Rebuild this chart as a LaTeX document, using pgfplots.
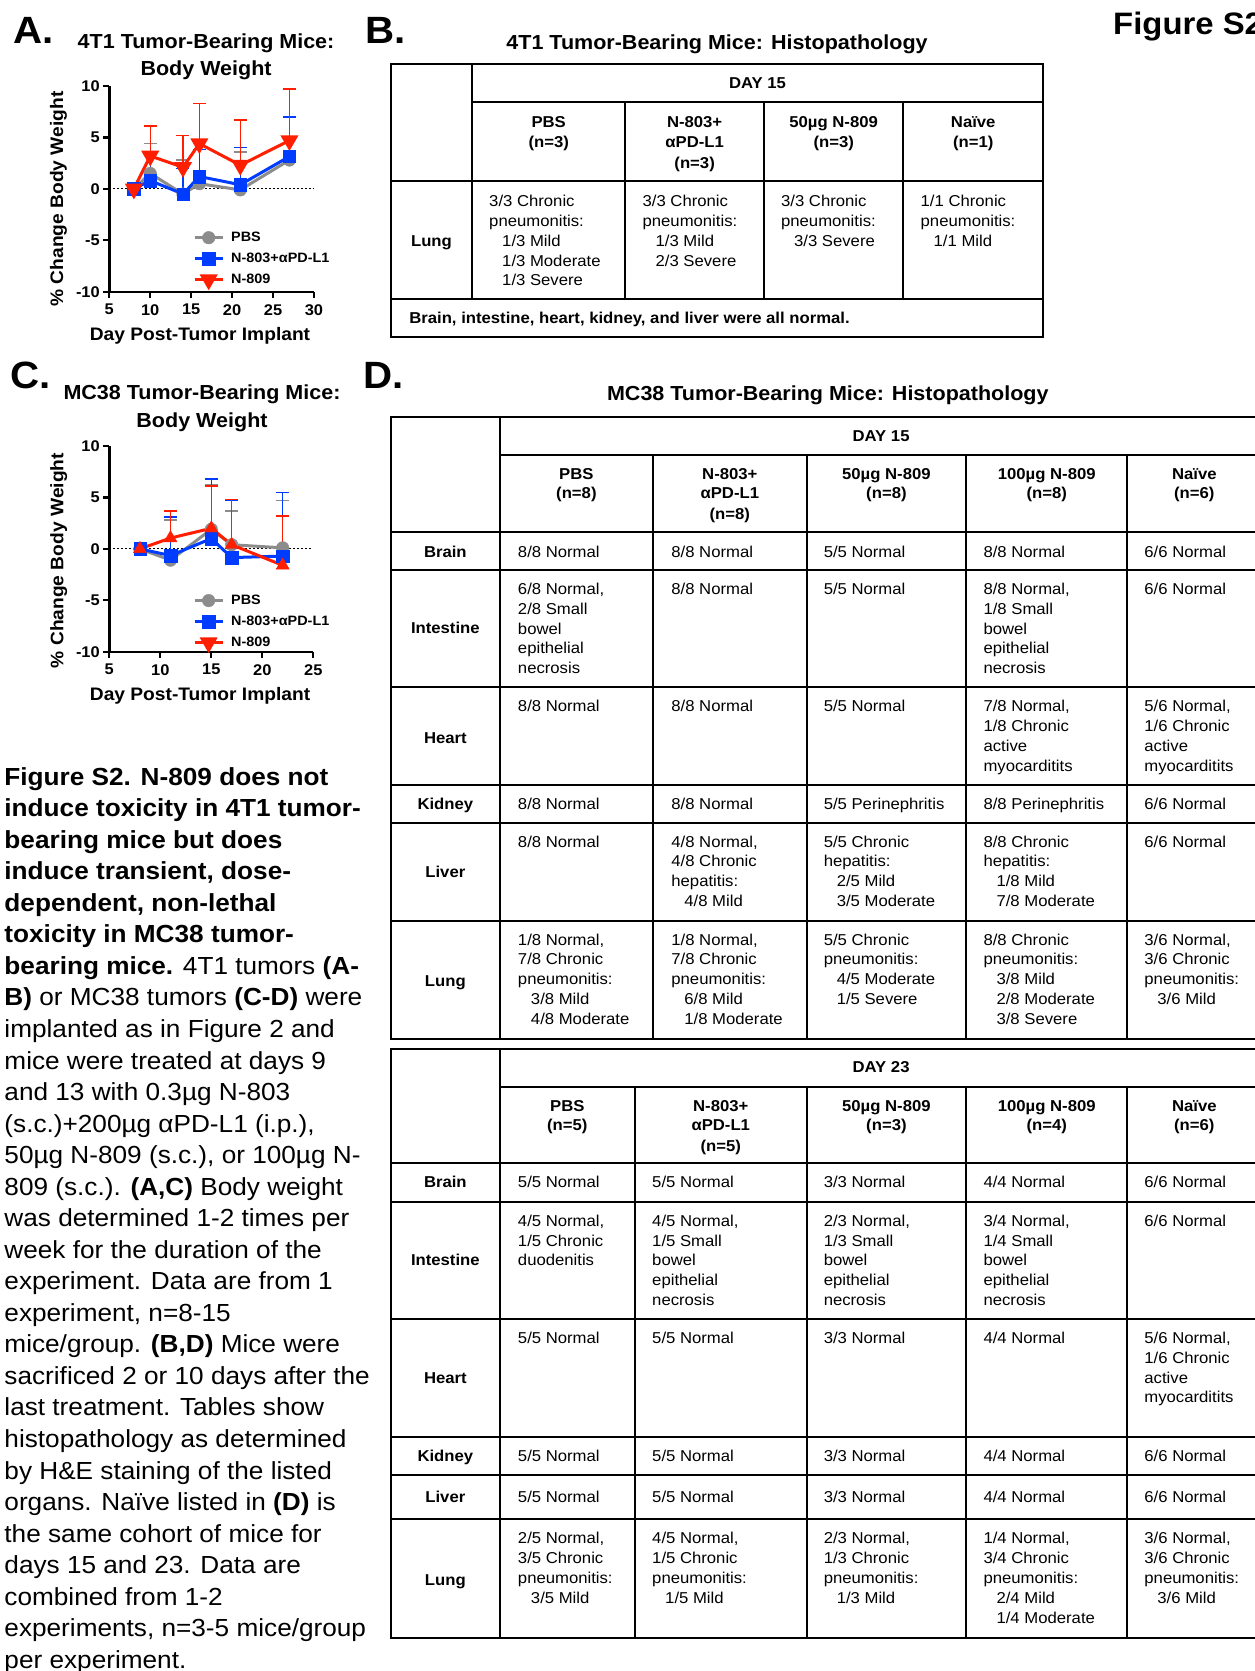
\documentclass[border=0pt]{standalone}
\usepackage{fontspec}
\setmainfont{Liberation Sans}[FakeStretch=1.06]
\usepackage{pgfplots}
\usepackage{pgfplotstable}
\pgfplotsset{compat=1.18}
\definecolor{pbsg}{RGB}{140,140,140}
\definecolor{nblue}{RGB}{0,60,255}
\definecolor{nred}{RGB}{255,30,0}
\newcommand\tf{\fontsize{15.75}{19}\selectfont}
\newcommand\capf{\fontsize{24.7}{29}\selectfont}
\newcommand\ttl{\bfseries\fontsize{20.3}{24}\selectfont}
\newcommand\plab{\bfseries\fontsize{38}{40}\selectfont}
\newcommand\cell[3]{\foreach \cellitem [count=\nn from 0] in {#3} {\node[anchor=base west,inner sep=0pt,font=\tf] at (#1,#2+18.6*\nn) {\cellitem};}}
\newcommand\hd[3]{\node[anchor=base,inner sep=0pt,font=\tf\bfseries] at (#1,#2) {#3};}
\newcommand\cl[2]{\node[anchor=base west,inner sep=0pt,font=\capf] at (4,737+29.6*#1-29.6) {#2};}
\newcommand\ind{\hspace*{13pt}}

\pgfplotstableread{
x y e
8 0 0
10 1.5 2.9
14 -0.5 3.3
16 0.5 4.0
21 -0.1 3.7
27 2.8 0.9
}\pbsA
\pgfplotstableread{
x y e
8 0 0
10 0.8 2.55
14 -0.5 2.5
16 1.2 2.6
21 0.4 3.6
27 3.15 3.85
}\blueA
\pgfplotstableread{
x y e
8 0 0
10 3.2 2.9
14 2.1 3.1
16 4.4 3.9
21 2.3 4.4
27 4.7 5.0
}\redA
\pgfplotstableread{
x y e
8 0 0
11 -1.1 3.9
15 1.9 4.3
17 0.4 3.3
22 0.1 4.6
}\pbsC
\pgfplotstableread{
x y e
8 0 0
11 -0.65 3.75
15 1.0 5.8
17 -0.85 5.55
22 -0.7 6.2
}\blueC
\pgfplotstableread{
x y e
8 0 0
11 1.05 2.65
15 2.0 4.1
17 0.4 4.4
22 -1.6 4.8
}\redC

\pgfplotsset{
 gpstyle/.style={
  scale only axis,
  axis x line=bottom, axis y line=left,
  axis line style={-, line width=2.4pt},
  ymin=-10, ymax=10, xmin=5,
  ytick={-10,-5,0,5,10},
  tick align=outside, major tick length=6pt,
  tick style={line width=2.2pt, black},
  ticklabel style={font=\bfseries\fontsize{15.5}{16}\selectfont},
  xticklabel style={yshift=-3pt},
  /pgf/number format/assume math mode=true,
  label style={font=\bfseries\fontsize{18.1}{20}\selectfont},
  clip=false,
  legend cell align=left,
  legend style={draw=none, fill=none, inner sep=0pt, row sep=6pt,
    nodes={text height=10pt, text depth=3pt, inner sep=1pt},
    /tikz/every odd column/.append style={column sep=6pt},
    font=\bfseries\fontsize{13.6}{15}\selectfont},
  legend image code/.code={\draw[mark repeat=2,mark phase=2,##1] plot coordinates {(0pt,0pt) (14pt,0pt) (28pt,0pt)};},
 },
 ser/.style={line width=3pt, mark options={solid, line width=0.4pt}},
 eb/.style={/pgfplots/error bars/y dir=plus, /pgfplots/error bars/y explicit,
   /pgfplots/error bars/error bar style={line width=1.4pt,#1},
   /pgfplots/error bars/error mark options={rotate=90, mark size=6.5pt, line width=1.4pt, #1}},
}

\begin{document}
\begin{tikzpicture}
\useasboundingbox (0pt,0pt) rectangle (1255pt,-1671pt);

% ---------------- Panel A ----------------
\begin{axis}[gpstyle,
  at={(109.3pt,-291.7pt)}, anchor=south west,
  width=204.7pt, height=205.7pt,
  xmax=30, xtick={5,10,...,30},
  xlabel={Day Post-Tumor Implant}, ylabel={\% Change Body Weight},
  xlabel style={at={(axis description cs:0.443,-0.235)}, anchor=base},
  ylabel style={at={(axis description cs:-0.225,0.451)}, anchor=base},
  legend style={at={(0.409,0.300)}, anchor=north west},
]
\addplot[black, line width=1.2pt, dash pattern=on 1.2pt off 2.8pt, forget plot] coordinates {(5,0) (30,0)};
\addplot[pbsg, ser, mark=*, mark size=6.3pt, eb=pbsg] table[x=x,y=y,y error=e] {\pbsA};
\addplot[nblue, ser, mark=square*, mark size=6.2pt, eb=nblue] table[x=x,y=y,y error=e] {\blueA};
\addplot[nred, ser, mark=triangle*, mark size=7.5pt, mark options={rotate=180}, eb=nred] table[x=x,y=y,y error=e] {\redA};
\legend{PBS, N-803+αPD-L1, N-809}
\end{axis}

% ---------------- Panel C ----------------
\begin{axis}[gpstyle,
  at={(109.3pt,-651.7pt)}, anchor=south west,
  width=204pt, height=205.7pt,
  xmax=25, xtick={5,10,...,25},
  xlabel={Day Post-Tumor Implant}, ylabel={\% Change Body Weight},
  xlabel style={at={(axis description cs:0.445,-0.235)}, anchor=base},
  ylabel style={at={(axis description cs:-0.2255,0.443)}, anchor=base},
  legend style={at={(0.41,0.286)}, anchor=north west},
]
\addplot[black, line width=1.2pt, dash pattern=on 1.2pt off 2.8pt, forget plot] coordinates {(5,0) (25,0)};
\addplot[pbsg, ser, mark=*, mark size=6.3pt, eb=pbsg] table[x=x,y=y,y error=e] {\pbsC};
\addplot[nblue, ser, mark=square*, mark size=6.2pt, eb=nblue] table[x=x,y=y,y error=e] {\blueC};
\addplot[nred, ser, mark=triangle*, mark size=7.5pt, eb=nred, forget plot] table[x=x,y=y,y error=e] {\redC};
\addlegendimage{nred, ser, mark=triangle*, mark size=7.5pt, mark options={rotate=180}}
\legend{PBS, N-803+αPD-L1, N-809}
\end{axis}

\begin{scope}[x=1.0654pt, y=-1.0654pt, tl/.style={line width=2pt, line cap=rect}]
% labels and titles
\node[anchor=base west, inner sep=0pt, font=\plab] at (12.2,40.7) {A.};
\node[anchor=base, inner sep=0pt, font=\ttl] at (193.4,45.4) {4T1 Tumor-Bearing Mice:};
\node[anchor=base, inner sep=0pt, font=\ttl] at (193.4,70.4) {Body Weight};
\node[anchor=base west, inner sep=0pt, font=\plab] at (342.6,40.7) {B.};
\node[anchor=base, inner sep=0pt, font=\ttl] at (673,46) {4T1 Tumor-Bearing Mice: Histopathology};
\node[anchor=base west, inner sep=0pt, font=\plab] at (9.4,364.5) {C.};
\node[anchor=base, inner sep=0pt, font=\ttl] at (189.6,374.8) {MC38 Tumor-Bearing Mice:};
\node[anchor=base, inner sep=0pt, font=\ttl] at (189.6,401) {Body Weight};
\node[anchor=base west, inner sep=0pt, font=\plab] at (340.7,364.2) {D.};
\node[anchor=base, inner sep=0pt, font=\ttl] at (777,376) {MC38 Tumor-Bearing Mice: Histopathology};
\node[anchor=base west, inner sep=0pt, font=\bfseries\fontsize{31}{33}\selectfont] at (1044.7,32.5) {Figure S2};

% ---------------- Table B ----------------
\draw[tl] (367,60) rectangle (979,316);
\draw[tl] (443,60) -- (443,281);
\draw[tl] (443,96) -- (979,96);
\draw[tl] (367,170) -- (979,170);
\draw[tl] (367,281) -- (979,281);
\foreach \xx in {587,717,848} \draw[tl] (\xx,96) -- (\xx,281);
\hd{711}{83}{DAY 15}
\hd{515}{120}{PBS}\hd{515}{138}{(n=3)}
\hd{652}{120}{N-803+}\hd{652}{138}{αPD-L1}\hd{652}{158}{(n=3)}
\hd{782.5}{120}{50µg N-809}\hd{782.5}{138}{(n=3)}
\hd{913.5}{120}{Naïve}\hd{913.5}{138}{(n=1)}
\hd{405}{231}{Lung}
\cell{459}{194}{3/3 Chronic,pneumonitis:,\ind 1/3 Mild,\ind 1/3 Moderate,\ind 1/3 Severe}
\cell{603}{194}{3/3 Chronic,pneumonitis:,\ind 1/3 Mild,\ind 2/3 Severe}
\cell{733}{194}{3/3 Chronic,pneumonitis:,\ind 3/3 Severe}
\cell{864}{194}{1/1 Chronic,pneumonitis:,\ind 1/1 Mild}
\node[anchor=base west, inner sep=0pt, font=\tf\bfseries] at (384,304) {Brain, intestine, heart, kidney, and liver were all normal.};

% ---------------- Table D, day 15 ----------------
\draw[tl] (1190,391) -- (367,391) -- (367,975) -- (1190,975);
\draw[tl] (1184,391) -- (1184,975);
\draw[tl] (469,391) -- (469,975);
\draw[tl] (469,427) -- (1190,427);
\foreach \yy in {499,535,645,737,772,864} \draw[tl] (367,\yy) -- (1190,\yy);
\foreach \xx in {613,757,907,1058} \draw[tl] (\xx,427) -- (\xx,975);
\hd{827}{414}{DAY 15}
\hd{541}{450}{PBS}\hd{541}{468}{(n=8)}
\hd{685}{450}{N-803+}\hd{685}{468}{αPD-L1}\hd{685}{488}{(n=8)}
\hd{832}{450}{50µg N-809}\hd{832}{468}{(n=8)}
\hd{982.5}{450}{100µg N-809}\hd{982.5}{468}{(n=8)}
\hd{1121}{450}{Naïve}\hd{1121}{468}{(n=6)}
\hd{418}{523}{Brain}\hd{418}{595}{Intestine}\hd{418}{698}{Heart}
\hd{418}{760}{Kidney}\hd{418}{824}{Liver}\hd{418}{926}{Lung}
% brain
\cell{486}{523}{8/8 Normal}\cell{630}{523}{8/8 Normal}\cell{773}{523}{5/5 Normal}\cell{923}{523}{8/8 Normal}\cell{1074}{523}{6/6 Normal}
% intestine
\cell{486}{558}{{6/8 Normal,},2/8 Small,bowel,epithelial,necrosis}
\cell{630}{558}{8/8 Normal}
\cell{773}{558}{5/5 Normal}
\cell{923}{558}{{8/8 Normal,},1/8 Small,bowel,epithelial,necrosis}
\cell{1074}{558}{6/6 Normal}
% heart
\cell{486}{668}{8/8 Normal}
\cell{630}{668}{8/8 Normal}
\cell{773}{668}{5/5 Normal}
\cell{923}{668}{{7/8 Normal,},1/8 Chronic,active,myocarditits}
\cell{1074}{668}{{5/6 Normal,},1/6 Chronic,active,myocarditits}
% kidney
\cell{486}{760}{8/8 Normal}\cell{630}{760}{8/8 Normal}\cell{773}{760}{5/5 Perinephritis}\cell{923}{760}{8/8 Perinephritis}\cell{1074}{760}{6/6 Normal}
% liver
\cell{486}{795}{8/8 Normal}
\cell{630}{795}{{4/8 Normal,},4/8 Chronic,hepatitis:,\ind 4/8 Mild}
\cell{773}{795}{5/5 Chronic,hepatitis:,\ind 2/5 Mild,\ind 3/5 Moderate}
\cell{923}{795}{8/8 Chronic,hepatitis:,\ind 1/8 Mild,\ind 7/8 Moderate}
\cell{1074}{795}{6/6 Normal}
% lung
\cell{486}{887}{{1/8 Normal,},7/8 Chronic,pneumonitis:,\ind 3/8 Mild,\ind 4/8 Moderate}
\cell{630}{887}{{1/8 Normal,},7/8 Chronic,pneumonitis:,\ind 6/8 Mild,\ind 1/8 Moderate}
\cell{773}{887}{5/5 Chronic,pneumonitis:,\ind 4/5 Moderate,\ind 1/5 Severe}
\cell{923}{887}{8/8 Chronic,pneumonitis:,\ind 3/8 Mild,\ind 2/8 Moderate,\ind 3/8 Severe}
\cell{1074}{887}{{3/6 Normal,},3/6 Chronic,pneumonitis:,\ind 3/6 Mild}

% ---------------- Table D, day 23 ----------------
\draw[tl] (1190,985) -- (367,985) -- (367,1537) -- (1190,1537);
\draw[tl] (1184,985) -- (1184,1537);
\draw[tl] (469,985) -- (469,1537);
\draw[tl] (469,1020) -- (1190,1020);
\foreach \yy in {1092,1128,1238,1349,1384,1426} \draw[tl] (367,\yy) -- (1190,\yy);
\foreach \xx in {596,757,907,1058} \draw[tl] (\xx,1020) -- (\xx,1537);
\hd{827}{1007}{DAY 23}
\hd{532.5}{1043}{PBS}\hd{532.5}{1061}{(n=5)}
\hd{676.5}{1043}{N-803+}\hd{676.5}{1061}{αPD-L1}\hd{676.5}{1081}{(n=5)}
\hd{832}{1043}{50µg N-809}\hd{832}{1061}{(n=3)}
\hd{982.5}{1043}{100µg N-809}\hd{982.5}{1061}{(n=4)}
\hd{1121}{1043}{Naïve}\hd{1121}{1061}{(n=6)}
\hd{418}{1115}{Brain}\hd{418}{1188}{Intestine}\hd{418}{1299}{Heart}
\hd{418}{1372}{Kidney}\hd{418}{1410}{Liver}\hd{418}{1488}{Lung}
% brain
\cell{486}{1115}{5/5 Normal}\cell{612}{1115}{5/5 Normal}\cell{773}{1115}{3/3 Normal}\cell{923}{1115}{4/4 Normal}\cell{1074}{1115}{6/6 Normal}
% intestine
\cell{486}{1151}{{4/5 Normal,},1/5 Chronic,duodenitis}
\cell{612}{1151}{{4/5 Normal,},1/5 Small,bowel,epithelial,necrosis}
\cell{773}{1151}{{2/3 Normal,},1/3 Small,bowel,epithelial,necrosis}
\cell{923}{1151}{{3/4 Normal,},1/4 Small,bowel,epithelial,necrosis}
\cell{1074}{1151}{6/6 Normal}
% heart
\cell{486}{1261}{5/5 Normal}\cell{612}{1261}{5/5 Normal}\cell{773}{1261}{3/3 Normal}\cell{923}{1261}{4/4 Normal}
\cell{1074}{1261}{{5/6 Normal,},1/6 Chronic,active,myocarditits}
% kidney
\cell{486}{1372}{5/5 Normal}\cell{612}{1372}{5/5 Normal}\cell{773}{1372}{3/3 Normal}\cell{923}{1372}{4/4 Normal}\cell{1074}{1372}{6/6 Normal}
% liver
\cell{486}{1410}{5/5 Normal}\cell{612}{1410}{5/5 Normal}\cell{773}{1410}{3/3 Normal}\cell{923}{1410}{4/4 Normal}\cell{1074}{1410}{6/6 Normal}
% lung
\cell{486}{1449}{{2/5 Normal,},3/5 Chronic,pneumonitis:,\ind 3/5 Mild}
\cell{612}{1449}{{4/5 Normal,},1/5 Chronic,pneumonitis:,\ind 1/5 Mild}
\cell{773}{1449}{{2/3 Normal,},1/3 Chronic,pneumonitis:,\ind 1/3 Mild}
\cell{923}{1449}{{1/4 Normal,},3/4 Chronic,pneumonitis:,\ind 2/4 Mild,\ind 1/4 Moderate}
\cell{1074}{1449}{{3/6 Normal,},3/6 Chronic,pneumonitis:,\ind 3/6 Mild}

% ---------------- Caption ----------------
\cl{1}{\bfseries Figure S2. N-809 does not}
\cl{2}{\bfseries induce toxicity in 4T1 tumor-}
\cl{3}{\bfseries bearing mice but does}
\cl{4}{\bfseries induce transient, dose-}
\cl{5}{\bfseries dependent, non-lethal}
\cl{6}{\bfseries toxicity in MC38 tumor-}
\cl{7}{{\bfseries bearing mice.} 4T1 tumors {\bfseries (A-}}
\cl{8}{{\bfseries B)} or MC38 tumors {\bfseries (C-D)} were}
\cl{9}{implanted as in Figure 2 and}
\cl{10}{mice were treated at days 9}
\cl{11}{and 13 with 0.3µg N-803}
\cl{12}{(s.c.)+200µg αPD-L1 (i.p.),}
\cl{13}{50µg N-809 (s.c.), or 100µg N-}
\cl{14}{809 (s.c.). {\bfseries (A,C)} Body weight}
\cl{15}{was determined 1-2 times per}
\cl{16}{week for the duration of the}
\cl{17}{experiment. Data are from 1}
\cl{18}{experiment, n=8-15}
\cl{19}{mice/group. {\bfseries (B,D)} Mice were}
\cl{20}{sacrificed 2 or 10 days after the}
\cl{21}{last treatment. Tables show}
\cl{22}{histopathology as determined}
\cl{23}{by H\&E staining of the listed}
\cl{24}{organs. Naïve listed in {\bfseries (D)} is}
\cl{25}{the same cohort of mice for}
\cl{26}{days 15 and 23. Data are}
\cl{27}{combined from 1-2}
\cl{28}{experiments, n=3-5 mice/group}
\cl{29}{per experiment.}
\end{scope}
\end{tikzpicture}
\end{document}
